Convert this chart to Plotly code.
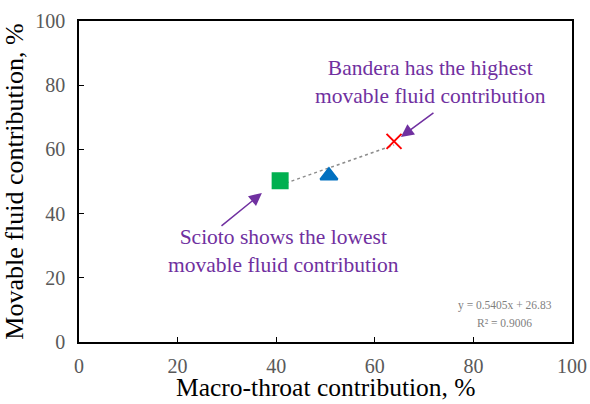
import numpy as np
import plotly.graph_objects as go

# Sample data: macro-throat contribution vs movable fluid contribution (%)
samples = ["Scioto", "Sample B", "Bandera"]
macro_throat = [40.8, 50.7, 63.9]
movable_fluid = [50.2, 51.8, 62.5]
symbols = ["square", "triangle-up", "x-thin"]
colors = ["#00B050", "#0070C0", "#FF0000"]

# Linear trend fitted to the three samples
slope, intercept = 0.5405, 26.83
r_squared = 0.9006

fig = go.Figure()

x_fit = np.array([min(macro_throat), max(macro_throat)])
fig.add_trace(go.Scatter(
    x=x_fit, y=slope * x_fit + intercept, mode="lines",
    line=dict(color="#8C8C8C", width=1.5, dash="dot"),
    showlegend=False, hoverinfo="skip"))

for name, xv, yv, sym, col in zip(samples, macro_throat, movable_fluid, symbols, colors):
    fig.add_trace(go.Scatter(
        x=[xv], y=[yv], mode="markers", name=name,
        marker=dict(symbol=sym, color=col, size=15,
                    line=dict(color=col, width=2)),
        showlegend=False))

serif = "Liberation Serif"
purple = "#7030A0"

fig.add_annotation(
    x=65.3, y=63.9, xref="x", yref="y",
    ax=72.2, ay=71.7, axref="x", ayref="y",
    text="", showarrow=True, arrowhead=2, arrowsize=1.7, arrowwidth=1.5,
    arrowcolor=purple)
fig.add_annotation(
    x=71.3, y=81.0, xref="x", yref="y",
    text="Bandera has the highest<br>movable fluid contribution",
    showarrow=False, font=dict(family=serif, size=21.5, color=purple),
    align="center")

fig.add_annotation(
    x=37.1, y=46.4, xref="x", yref="y",
    ax=28.6, ay=35.8, axref="x", ayref="y",
    text="", showarrow=True, arrowhead=2, arrowsize=1.7, arrowwidth=1.5,
    arrowcolor=purple)
fig.add_annotation(
    x=41.4, y=28.3, xref="x", yref="y",
    text="Scioto shows the lowest<br>movable fluid contribution",
    showarrow=False, font=dict(family=serif, size=21.5, color=purple),
    align="center")

eq_font = dict(family=serif, size=11.5, color="#7F7F7F")
fig.add_annotation(
    x=86.4, y=11.5, xref="x", yref="y",
    text=f"y = {slope}x + {intercept}", showarrow=False, font=eq_font)
fig.add_annotation(
    x=86.4, y=5.9, xref="x", yref="y",
    text=f"R² = {r_squared}", showarrow=False, font=eq_font)

# x-axis title placed below the tick labels
fig.add_annotation(
    x=0.5, y=-0.143, xref="paper", yref="paper",
    xanchor="center", yanchor="middle",
    text="Macro-throat contribution, %", showarrow=False,
    font=dict(family=serif, size=25.5, color="black"))

axis_common = dict(
    range=[0, 100], dtick=20, showgrid=False, zeroline=False,
    showline=True, linecolor="black", linewidth=1.5, mirror=True,
    ticks="inside", ticklen=5, tickwidth=1.2, tickcolor="black",
    tickfont=dict(family=serif, size=20, color="#595959"),
    automargin=False,
)

fig.update_xaxes(**axis_common, ticklabelstandoff=5)
fig.update_yaxes(**axis_common, ticklabelstandoff=8,
                 title=dict(text="Movable fluid contribution, %",
                            font=dict(family=serif, size=26, color="black"),
                            standoff=6))

fig.update_layout(
    width=590, height=404,
    margin=dict(l=79, r=18, t=21, b=62),
    plot_bgcolor="white", paper_bgcolor="white",
    font=dict(family=serif),
)

fig.write_html("out.html")
